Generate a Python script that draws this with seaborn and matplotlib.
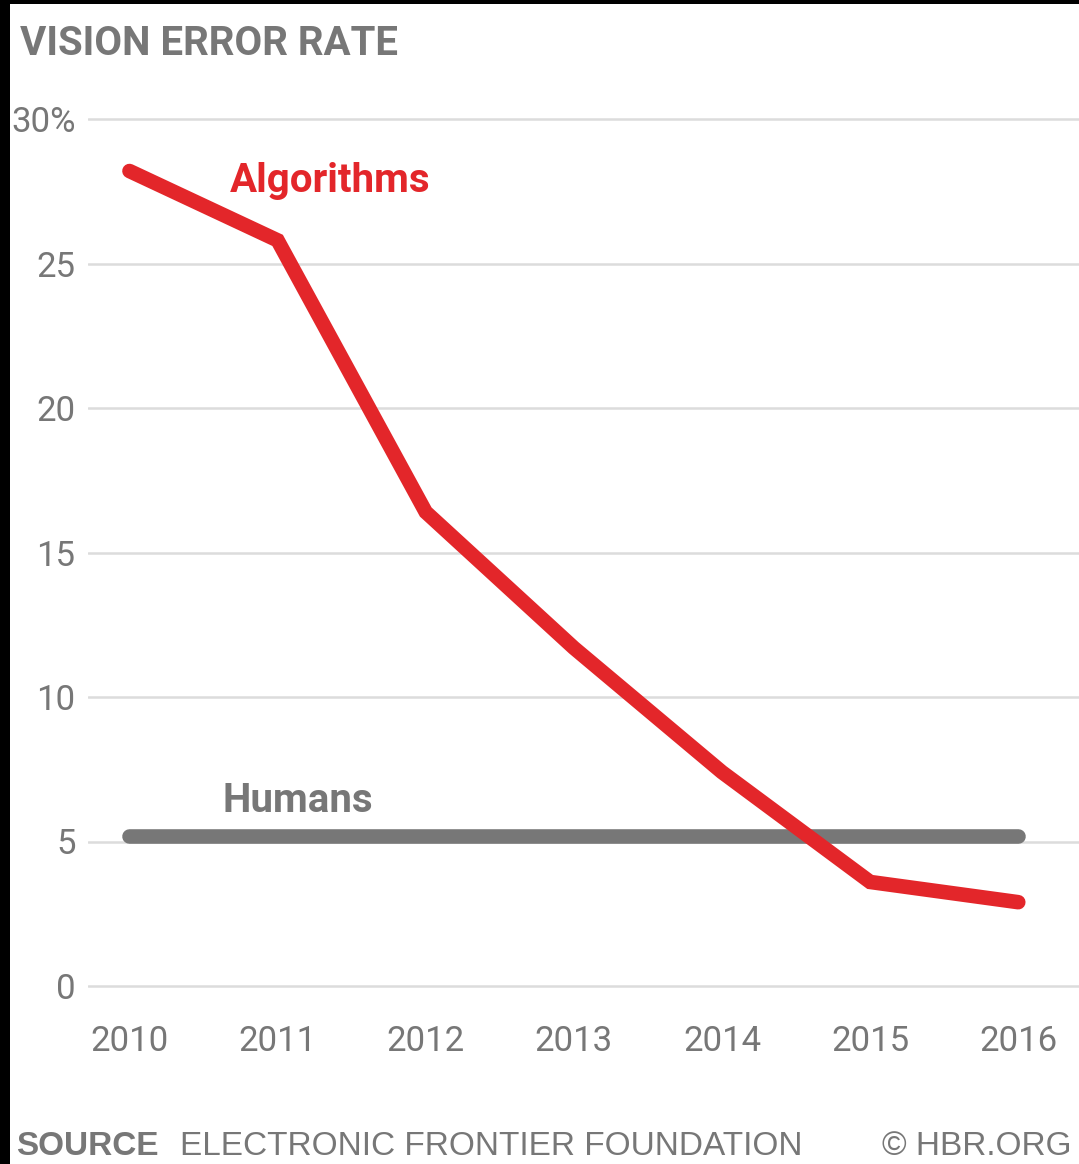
import numpy as np
import pandas as pd
import matplotlib
matplotlib.use('Agg')
import matplotlib.pyplot as plt
import seaborn as sns

# Data
years = [2010, 2011, 2012, 2013, 2014, 2015, 2016]
algorithms = [28.2, 25.8, 16.4, 11.7, 7.4, 3.6, 2.9]
humans = [5.2, 5.2, 5.2, 5.2, 5.2, 5.2, 5.2]
y_ticks = [0, 5, 10, 15, 20, 25, 30]
y_labels = ['0', '5', '10', '15', '20', '25', '30%']

RED = '#e3262a'
GRAY = '#777777'
LIGHT = '#dcdcdc'

sns.set_style('white')
plt.rcParams['font.family'] = ['Roboto', 'DejaVu Sans']

df = pd.DataFrame({'year': years, 'Algorithms': algorithms, 'Humans': humans})

fig = plt.figure(figsize=(10.79, 11.64), dpi=100)
fig.patch.set_facecolor('black')
# white page with thin black border on left/top like the screenshot
fig.patches.append(plt.Rectangle((10 / 1079, 0), 1, (1164 - 4) / 1164,
                                 transform=fig.transFigure, facecolor='white',
                                 edgecolor='none', zorder=-10))

ymin, ymax = -0.3, 30.3
px_per_unit = (986 - 119) / 30
bottom_px = 986 + 0.3 * px_per_unit
top_px = 119 - 0.3 * px_per_unit
ax = fig.add_axes([88 / 1079, (1164 - bottom_px) / 1164,
                   1 - 88 / 1079, (bottom_px - top_px) / 1164])
ax.set_facecolor('none')

sns.lineplot(data=df, x='year', y='Humans', ax=ax, color=GRAY, linewidth=10.5,
             solid_capstyle='round', zorder=3)
sns.lineplot(data=df, x='year', y='Algorithms', ax=ax, color=RED, linewidth=10.5,
             solid_capstyle='round', solid_joinstyle='miter', zorder=4)
for ln in ax.lines:
    ln.set_clip_on(False)

ax.set_xlim(2009.72, 2016.41)
ax.set_ylim(ymin, ymax)
ax.set_yticks(y_ticks)
ax.set_yticklabels(y_labels)
ax.set_xticks(years)
ax.set_xticklabels([str(y) for y in years])
ax.set_xlabel('')
ax.set_ylabel('')

ax.yaxis.grid(True, color=LIGHT, linewidth=1.8)
ax.xaxis.grid(False)
for s in ax.spines.values():
    s.set_visible(False)

ax.tick_params(axis='y', length=0, pad=9, labelsize=25, labelcolor=GRAY)
ax.tick_params(axis='x', length=16, width=1.2, color=LIGHT, pad=12,
               labelsize=25, labelcolor=GRAY, direction='out')
# x tick marks hang from the 0 line
ax.spines['bottom'].set_position(('data', 0))

ax.text(2010.68, 27.47, 'Algorithms', color=RED, fontsize=29, fontweight='bold',
        ha='left', va='baseline')
ax.text(2010.625, 6.02, 'Humans', color=GRAY, fontsize=29, fontweight='bold',
        ha='left', va='baseline')

fig.text(20 / 1079, 1 - 55 / 1164, 'VISION ERROR RATE', color=GRAY, fontsize=29,
         fontweight='bold', ha='left', va='baseline')

foot = ['Liberation Sans', 'DejaVu Sans']
fig.text(16 / 1079, 1 - 1155 / 1164, 'SOURCE', color=GRAY, fontsize=24,
         fontweight='bold', ha='left', va='baseline', family=foot)
fig.text(180 / 1079, 1 - 1155 / 1164, 'ELECTRONIC FRONTIER FOUNDATION', color=GRAY,
         fontsize=24, ha='left', va='baseline', family=foot)
fig.text(1072 / 1079, 1 - 1155 / 1164, '\u00a9 HBR.ORG', color=GRAY, fontsize=24,
         ha='right', va='baseline', family=foot)

fig.savefig('out.png', dpi=100, facecolor=fig.get_facecolor())
